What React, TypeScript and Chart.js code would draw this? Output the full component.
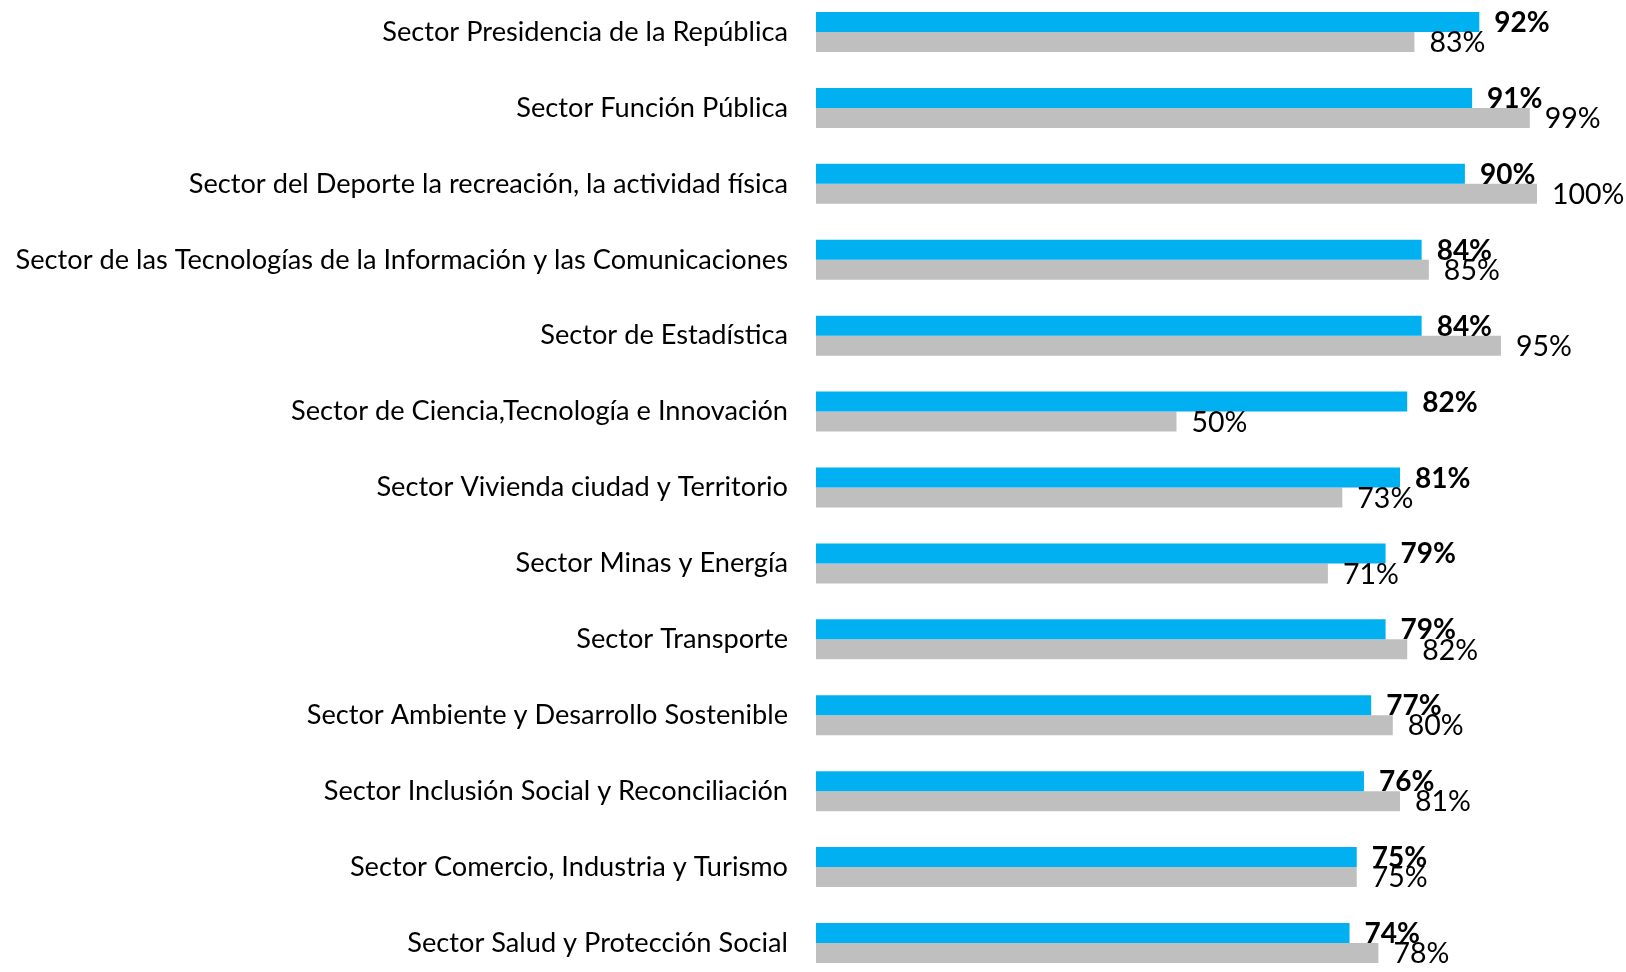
import React, { useEffect, useRef } from "react";
import { Chart, registerables } from "chart.js";

Chart.register(...registerables);

const categories: string[] = [
  "Sector Presidencia de la República",
  "Sector Función Pública",
  "Sector del Deporte la recreación, la actividad física",
  "Sector de las Tecnologías de la Información y las Comunicaciones",
  "Sector de Estadística",
  "Sector de Ciencia,Tecnología e Innovación",
  "Sector Vivienda ciudad y Territorio",
  "Sector Minas y Energía",
  "Sector Transporte",
  "Sector Ambiente y Desarrollo Sostenible",
  "Sector Inclusión Social y Reconciliación",
  "Sector Comercio, Industria y Turismo",
  "Sector Salud y Protección Social",
];

const seriesBlue: number[] = [92, 91, 90, 84, 84, 82, 81, 79, 79, 77, 76, 75, 74];
const seriesGray: number[] = [83, 99, 100, 85, 95, 50, 73, 71, 82, 80, 81, 75, 78];

const BLUE = "#00B0F0";
const GRAY = "#BFBFBF";
const FONT = "Lato";
const CAT_SIZE = 27.2;
const VAL_BOLD_SIZE = 28;
const VAL_SIZE = 28.5;

const valueLabels = {
  id: "valueLabels",
  afterDatasetsDraw(chart: any) {
    const ctx = chart.ctx;
    ctx.save();
    ctx.textAlign = "left";
    ctx.textBaseline = "middle";
    ctx.fillStyle = "#000";
    chart.data.datasets.forEach((ds: any, di: number) => {
      const meta = chart.getDatasetMeta(di);
      ctx.font = di === 0 ? "bold " + VAL_BOLD_SIZE + "px " + FONT : VAL_SIZE + "px " + FONT;
      meta.data.forEach((bar: any, i: number) => {
        const v = ds.data[i];
        ctx.fillText(Math.round(v) + "%", bar.x + 15, bar.y + 1);
      });
    });
    ctx.restore();
  },
};

export default function App() {
  const ref = useRef<HTMLCanvasElement>(null);
  useEffect(() => {
    if (!ref.current) return;
    const chart = new Chart(ref.current, {
      type: "bar",
      data: {
        labels: categories,
        datasets: [
          { label: "A", data: seriesBlue, backgroundColor: BLUE, borderWidth: 0 },
          { label: "B", data: seriesGray, backgroundColor: GRAY, borderWidth: 0 },
        ],
      },
      options: {
        indexAxis: "y",
        animation: false,
        responsive: false,
        layout: { padding: { left: 0, right: 89, top: 0, bottom: 0 } },
        datasets: { bar: { categoryPercentage: 0.527, barPercentage: 1.0 } },
        plugins: { legend: { display: false }, tooltip: { enabled: false } },
        scales: {
          x: { display: false, min: 0, max: 100 },
          y: {
            grid: { display: false, drawTicks: false },
            border: { display: false },
            ticks: {
              autoSkip: false,
              padding: 28,
              color: "#000",
              font: { family: FONT, size: CAT_SIZE },
            },
            afterFit: (scale: any) => {
              scale.width = 816;
              scale.paddingTop = 0;
              scale.paddingBottom = 0;
            },
          },
        },
      },
      plugins: [valueLabels],
    });
    return () => chart.destroy();
  }, []);
  return (
    <div style={{ position: "fixed", left: 0, top: -6, width: 1626, height: 987, background: "#fff" }}>
      <canvas ref={ref} width={1626} height={987} style={{ display: "block" }} />
    </div>
  );
}
